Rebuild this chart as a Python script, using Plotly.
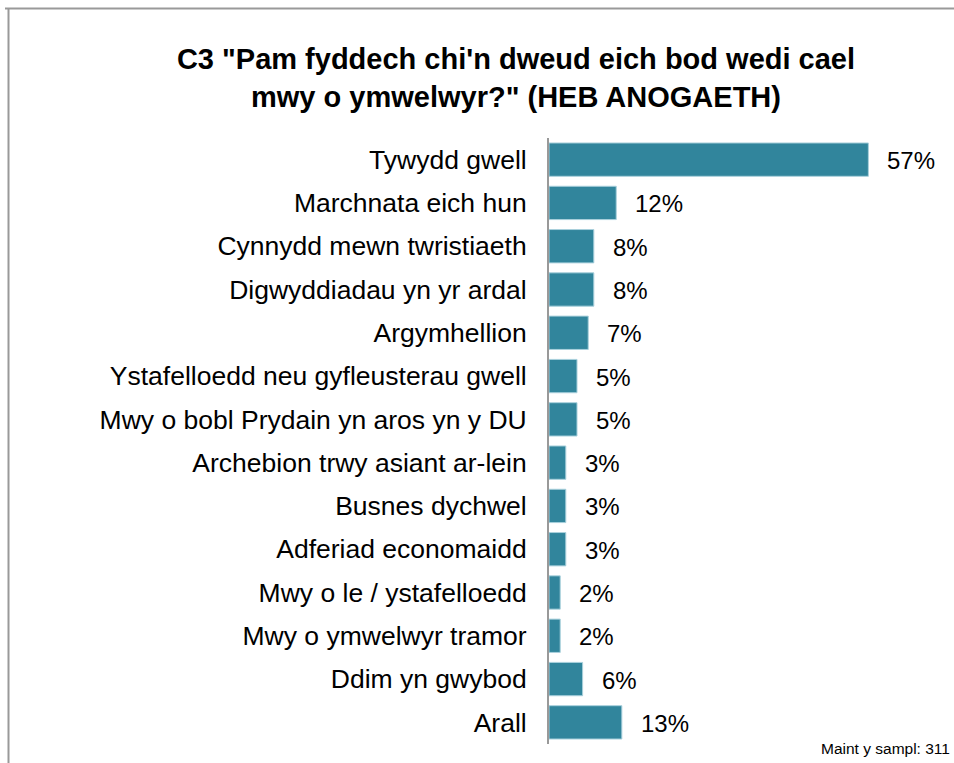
import plotly.graph_objects as go

categories = [
    "Tywydd gwell",
    "Marchnata eich hun",
    "Cynnydd mewn twristiaeth",
    "Digwyddiadau yn yr ardal",
    "Argymhellion",
    "Ystafelloedd neu gyfleusterau gwell",
    "Mwy o bobl Prydain yn aros yn y DU",
    "Archebion trwy asiant ar-lein",
    "Busnes dychwel",
    "Adferiad economaidd",
    "Mwy o le / ystafelloedd",
    "Mwy o ymwelwyr tramor",
    "Ddim yn gwybod",
    "Arall",
]
values = [57, 12, 8, 8, 7, 5, 5, 3, 3, 3, 2, 2, 6, 13]

W, H = 954, 763
L, R, T, B = 549, 944, 138, 744
FONT = "Liberation Sans, Arial"

fig = go.Figure()
fig.add_trace(go.Bar(
    x=values, y=categories, orientation="h",
    marker=dict(color="#31859C", line=dict(color="#A9D0DC", width=1)),
    width=0.77, hoverinfo="skip",
))
for c, v in zip(categories, values):
    fig.add_annotation(x=v, y=c, text=f"{v}%", showarrow=False,
                       xanchor="left", xshift=17, yshift=-1,
                       font=dict(family=FONT, size=24, color="#000"))

def px_x(p):
    return (p - L) / (R - L)

def px_y(p):
    return (B - p) / (B - T)

fig.add_shape(type="line", xref="paper", yref="paper",
              x0=px_x(5), x1=px_x(954), y0=px_y(8.5), y1=px_y(8.5),
              line=dict(color="#999999", width=2))
fig.add_shape(type="line", xref="paper", yref="paper",
              x0=px_x(8.5), x1=px_x(8.5), y0=px_y(8), y1=px_y(763),
              line=dict(color="#999999", width=2))

fig.add_annotation(xref="paper", yref="paper", x=px_x(952), y=px_y(748),
                   text="Maint y sampl: 311", showarrow=False,
                   xanchor="right", yanchor="middle",
                   font=dict(family=FONT, size=15.5, color="#000"))

fig.update_layout(
    width=W, height=H,
    margin=dict(l=L, r=W - R, t=T, b=H - B),
    paper_bgcolor="white", plot_bgcolor="white",
    showlegend=False,
    title=dict(
        text="<b>C3 \"Pam fyddech chi'n dweud eich bod wedi cael<br>mwy o ymwelwyr?\" (HEB ANOGAETH)</b>",
        x=516 / W, xanchor="center", y=1 - 69 / H, yanchor="middle",
        font=dict(family=FONT, size=29, color="#000"),
    ),
    xaxis=dict(range=[0, 70.5], showgrid=False, zeroline=False,
               showticklabels=False, showline=False, fixedrange=True),
    yaxis=dict(autorange="reversed", showgrid=False, zeroline=False,
               showline=True, linecolor="#999999", linewidth=2,
               ticks="", ticklabelstandoff=15, fixedrange=True,
               tickfont=dict(family=FONT, size=26.5, color="#000")),
)

fig.write_html("out.html", config={"displayModeBar": False},
               post_script="document.body.style.margin='0';")
